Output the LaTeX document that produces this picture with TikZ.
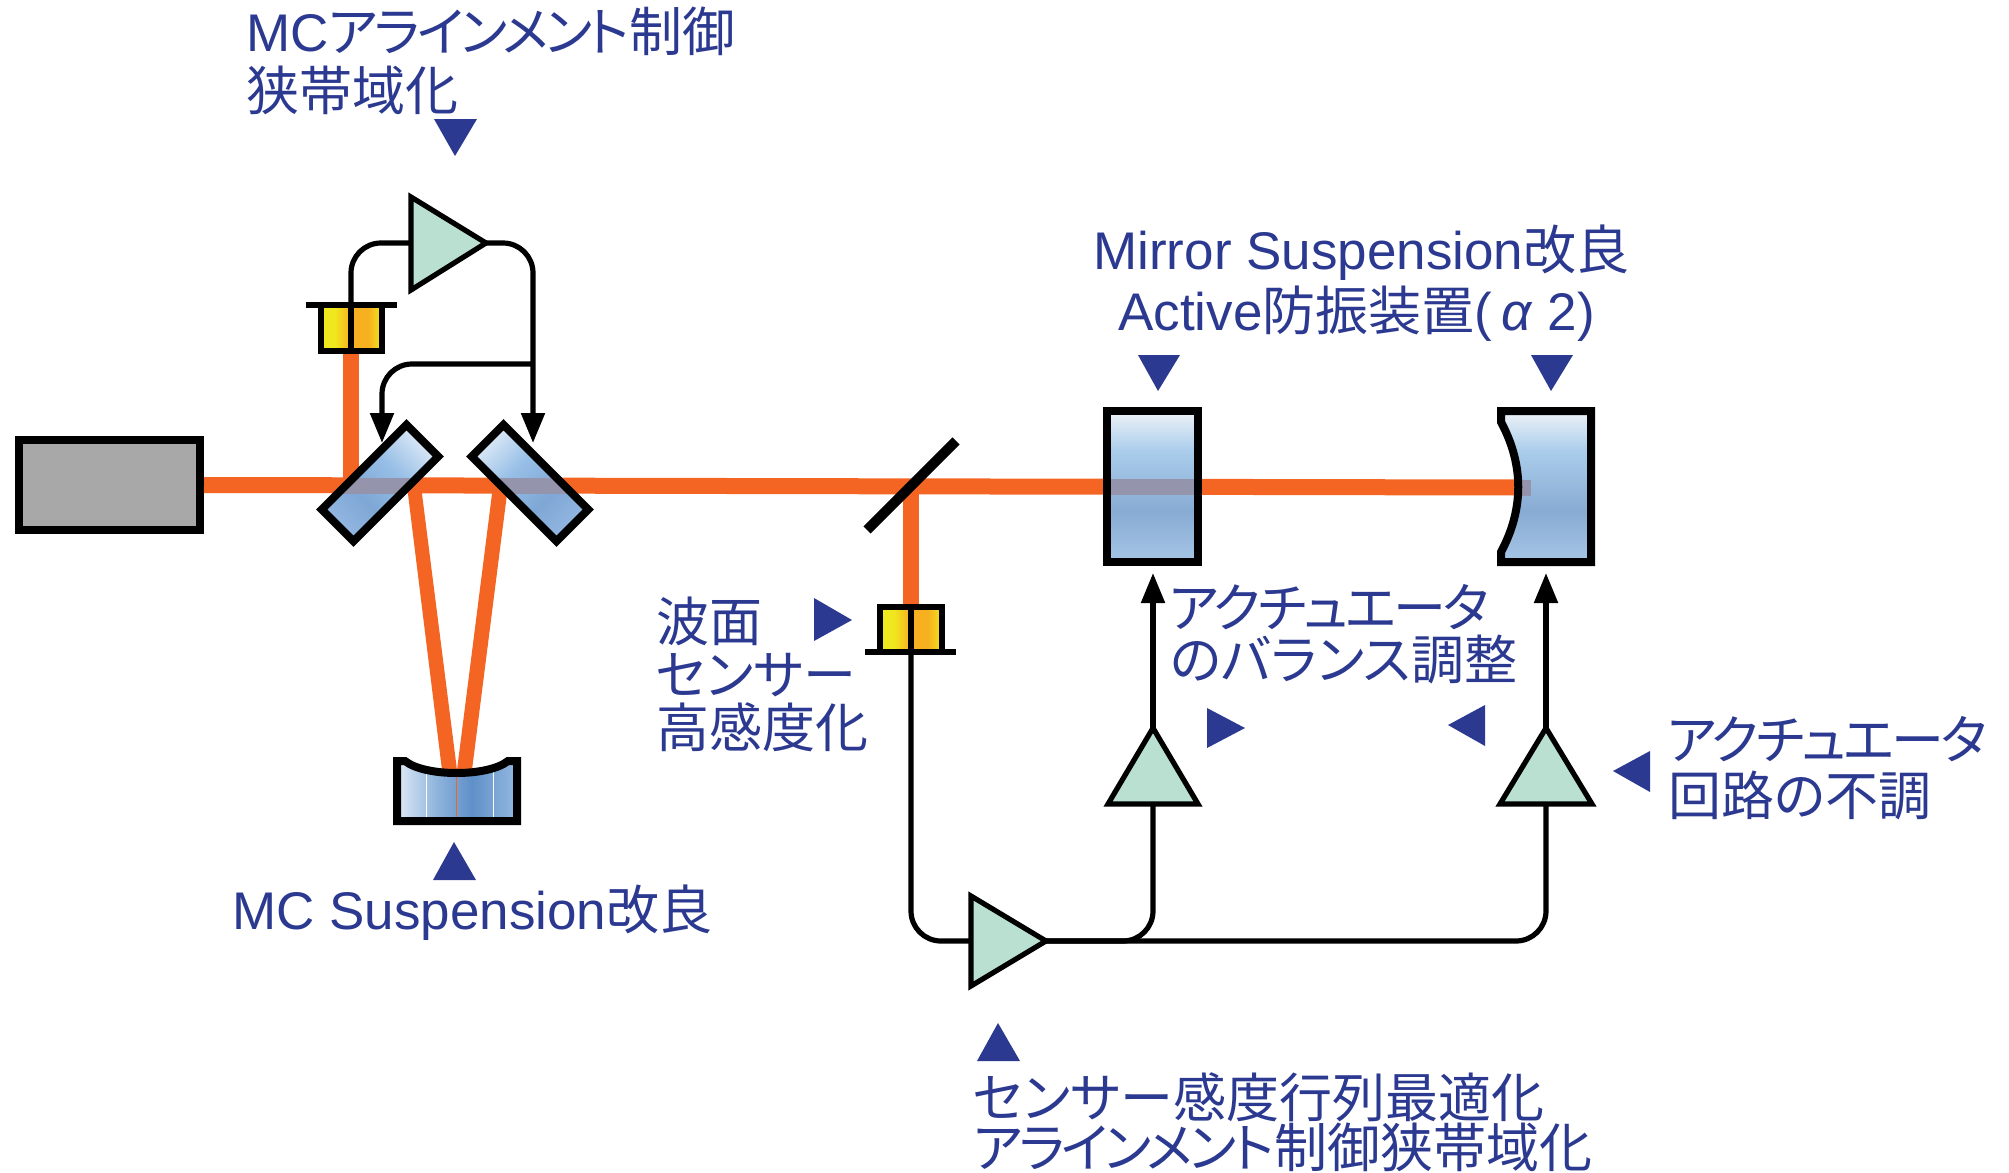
\documentclass[tikz,border=0pt]{standalone}
\usepackage{fontspec}
\setmainfont{Liberation Sans}
\newfontfamily\jp[RawFeature=+palt]{Noto Sans CJK JP}
\newfontfamily\jq[RawFeature=+palt,LetterSpace=-6.5]{Noto Sans CJK JP}
\newfontfamily\jr[RawFeature=+palt,LetterSpace=-5.2]{Noto Sans CJK JP}
\usetikzlibrary{arrows.meta}
\definecolor{lblue}{HTML}{2B3990}
\definecolor{beamc}{HTML}{F46523}
\definecolor{ampc}{HTML}{B9E0D0}
\definecolor{thrugray}{HTML}{9494AC}
\definecolor{mA}{HTML}{EEF3F7}\definecolor{mB}{HTML}{ABCDEB}\definecolor{mC}{HTML}{88ABD3}\definecolor{mD}{HTML}{A5C6E6}
\definecolor{rA}{HTML}{D8E7F6}\definecolor{rB}{HTML}{96BEE6}\definecolor{rC}{HTML}{7FA7D6}\definecolor{rD}{HTML}{92B6E0}
\definecolor{cA}{HTML}{E8F0F8}\definecolor{cB}{HTML}{8FB4DC}\definecolor{cC}{HTML}{5F90C8}\definecolor{cD}{HTML}{9ABDE3}
\definecolor{yA}{HTML}{F0E81E}\definecolor{yB}{HTML}{F7B020}
\pgfdeclareverticalshading{mirrorv}{100bp}{color(0bp)=(mD);color(25bp)=(mD);color(42bp)=(mC);color(62bp)=(mB);color(75bp)=(mA);color(100bp)=(mA)}
\pgfdeclareverticalshading{mirrorr}{100bp}{color(0bp)=(rD);color(25bp)=(rD);color(40bp)=(rC);color(58bp)=(rB);color(75bp)=(rA);color(100bp)=(rA)}
\pgfdeclarehorizontalshading{mirrorc}{100bp}{color(0bp)=(cA);color(25bp)=(cA);color(42bp)=(cB);color(56bp)=(cC);color(75bp)=(cD);color(100bp)=(cD)}
\pgfdeclarehorizontalshading{pdl}{100bp}{color(0bp)=(yA);color(25bp)=(yA);color(36bp)=(yA);color(50bp)=(yB);color(64bp)=(yB);color(75bp)=(yA);color(100bp)=(yA)}
\tikzset{
  x=0.5pt,y=-0.5pt,
  beam/.style={line width=8pt,draw=beamc,line cap=butt},
  thick box/.style={draw=black,line width=4pt,line join=miter},
  wire/.style={draw=black,line width=2.6pt},
  feed/.style={wire,-{Triangle[length=15pt,width=11.5pt]}},
  amp/.style={draw=black,line width=2.6pt,fill=ampc,line join=miter},
  pdbar/.style={draw=black,line width=3pt},
  pdbox/.style={draw=black,line width=2.8pt},
  bluemark/.style={fill=lblue,draw=none},
  lab/.style={anchor=base west,inner sep=0pt,text=lblue,font=\fontsize{26.5}{30}\selectfont},
}
\begin{document}
\begin{tikzpicture}
\useasboundingbox (0,0) rectangle (2009,1173);
% named points
\coordinate (bend) at (1531,488);
\coordinate (pickA) at (351,486);
\coordinate (pickB) at (911,486);
\coordinate (pd1top) at (351,305);
\coordinate (pd2top) at (911,606);
\coordinate (pd2bot) at (911,651);
\coordinate (amp1in) at (411,243);
\coordinate (amp1out) at (486,243);
\coordinate (tipM1) at (382,443);
\coordinate (tipM2) at (533,443);
\coordinate (branch) at (533,364);
\coordinate (amp3in) at (970,941);
\coordinate (amp3out) at (1046,941);
\coordinate (ampAtop) at (1153,728);
\coordinate (ampBtop) at (1546,728);
\coordinate (ampAbot) at (1153,804);
\coordinate (ampBbot) at (1546,804);
\coordinate (tipA) at (1153,573);
\coordinate (tipB) at (1546,573);
% laser
\node[thick box,outer sep=2pt,fill=black!34,minimum width=90.5pt,minimum height=45pt,inner sep=0pt] (laser) at (109.5,485) {};
% beams
\draw[beam] (laser.east) -- (1520,487.5);
\draw[beam] (pickA) -- (351,351);
\draw[beam] (pickB) -- (pd2top);
\fill[beamc] (407,486) -- (421,486) -- (457,770) -- (442,770) -- cycle;
\fill[beamc] (493,486) -- (508,486) -- (472,770) -- (457,770) -- cycle;
% mirror 1
\begin{scope}
\clip (438.3,456.5) -- (406.5,424.7) -- (321.7,509.5) -- (353.5,541.3) -- cycle;
\shade[shading=mirrorr,shading angle=-45] (321,424) rectangle (439,542);
\draw[beam,draw=thrugray] (300,486) -- (460,486);
\end{scope}
\draw[thick box] (438.3,456.5) -- (406.5,424.7) -- (321.7,509.5) -- (353.5,541.3) -- cycle;
% mirror 2
\begin{scope}
\clip (503.5,424.7) -- (471.7,456.5) -- (556.5,541.3) -- (588.3,509.5) -- cycle;
\shade[shading=mirrorr,shading angle=45] (471,424) rectangle (589,542);
\draw[beam,draw=thrugray] (450,486) -- (610,486);
\end{scope}
\draw[thick box] (503.5,424.7) -- (471.7,456.5) -- (556.5,541.3) -- (588.3,509.5) -- cycle;
% MC curved mirror
\begin{scope}
\clip (397,761) -- (405,761) .. controls (425,777) and (488,777) .. (508,761) -- (517,761) -- (517,821) -- (397,821) -- cycle;
\shade[shading=mirrorc] (393,757) rectangle (521,825);
\draw[white,line width=0.5pt] (426.5,761) -- (426.5,821) (493,761) -- (493,821);
\draw[beamc,line width=0.4pt] (456,761) -- (456,821);
\end{scope}
\draw[thick box] (397,761) -- (405,761) .. controls (425,777) and (488,777) .. (508,761) -- (517,761) -- (517,821) -- (397,821) -- cycle;
% beam splitter
\draw[black,line width=5pt] (867,530) -- (956,441);
% mirror A
\begin{scope}
\clip (1107,411) rectangle (1198,562);
\shade[shading=mirrorv] (1107,411) rectangle (1198,562);
\draw[beam,draw=thrugray] (1100,487) -- (1205,487);
\end{scope}
\draw[thick box] (1107,411) rectangle (1198,562);
% mirror B
\begin{scope}
\clip (1501,411) -- (1501,422) .. controls (1524,465) and (1524,509) .. (1501,552) -- (1501,562) -- (1591,562) -- (1591,411) -- cycle;
\shade[shading=mirrorv] (1501,411) rectangle (1591,562);
\draw[beam,draw=thrugray] (1505,488) -- (bend);
\end{scope}
\draw[thick box] (1501,411) -- (1501,422) .. controls (1524,465) and (1524,509) .. (1501,552) -- (1501,562) -- (1591,562) -- (1591,411) -- cycle;
% photodetectors
\shade[shading=pdl] (321,305) rectangle (382,351);
\draw[pdbox] (321,305) rectangle (382,351);
\draw[pdbox] (pd1top) -- (351,351);
\draw[pdbar] (306,305) -- (397,305);
\shade[shading=pdl] (880,607) rectangle (942,652);
\draw[pdbox] (880,607) rectangle (942,652);
\draw[pdbox] (pd2top) -- (pd2bot);
\draw[pdbar] (865,652) -- (956,652);
% wires
\draw[wire,rounded corners=15pt] (pd1top) |- (amp1in);
\draw[feed,rounded corners=15pt] (amp1out) -| (tipM2);
\draw[feed,rounded corners=15pt] (branch) -| (tipM1);
\draw[wire,rounded corners=15pt] (pd2bot) |- (amp3in);
\draw[wire,rounded corners=15pt] (amp3out) -| (ampAbot);
\draw[wire,rounded corners=15pt] (amp3out) -| (ampBbot);
\draw[feed] (ampAtop) -- (tipA);
\draw[feed] (ampBtop) -- (tipB);
% amplifiers
\draw[amp] (411,197) -- (amp1out) -- (411,290) -- cycle;
\draw[amp] (971,896) -- (amp3out) -- (971,986) -- cycle;
\draw[amp] (ampAtop) -- (1198,804) -- (1108,804) -- cycle;
\draw[amp] (ampBtop) -- (1592,804) -- (1500,804) -- cycle;
% blue markers
\fill[bluemark] (434,119) -- (477,119) -- (455,156) -- cycle;
\fill[bluemark] (1138,355) -- (1180,355) -- (1158,391) -- cycle;
\fill[bluemark] (1531,355) -- (1573,355) -- (1551,391) -- cycle;
\fill[bluemark] (814,598) -- (852,620) -- (814,641) -- cycle;
\fill[bluemark] (1207,708) -- (1245,728) -- (1207,748) -- cycle;
\fill[bluemark] (1485,705) -- (1448,725) -- (1485,746) -- cycle;
\fill[bluemark] (1650,751) -- (1613,771) -- (1650,792) -- cycle;
\fill[bluemark] (433,880) -- (454,842) -- (476,880) -- cycle;
\fill[bluemark] (977,1061) -- (998,1023) -- (1020,1061) -- cycle;
% labels
\node[lab] (t1) at (246,51) {MC{\jq アラインメント}{\jp 制御}};
\node[lab] (t2) at (246,110) {\jp 狭帯域化};
\node[lab] (t3) at (1093,269) {Mirror Suspension{\jp 改良}};
\node[lab] (t4) at (1118,330) {Active{\jp 防振装置}(\,\textit{α}\hspace{7.5pt}2)};
\node[lab] (t5) at (656,641) {\jp 波面};
\node[lab] (t6) at (656,694) {\jp センサー};
\node[lab] (t7) at (656,747) {\jp 高感度化};
\node[lab] (t8) at (1169,627) {\jr アクチュエータ};
\node[lab] (t9) at (1170,679) {\jp のバランス調整};
\node[lab] (t10) at (1667,759) {\jr アクチュエータ};
\node[lab] (t11) at (1668,815) {\jp 回路の不調};
\node[lab] (t12) at (232,929) {MC Suspension{\jp 改良}};
\node[lab] (t13) at (973,1117) {\jp センサー感度行列最適化};
\node[lab] (t14) at (973,1167) {\jq アラインメント{\jp 制御狭帯域化}};
\end{tikzpicture}
\end{document}
